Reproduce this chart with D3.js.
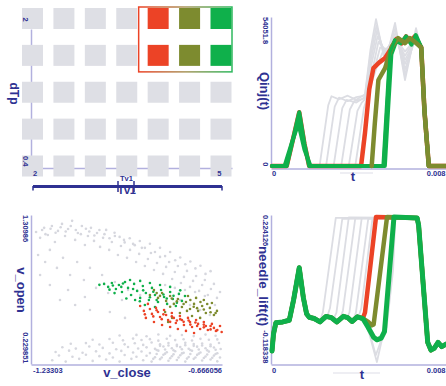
<!DOCTYPE html>
<html><head><meta charset="utf-8">
<script src="https://cdn.jsdelivr.net/npm/d3@7"></script>
<style>
body{margin:0;background:#fff}
svg{display:block}
text{font-family:"Liberation Sans",Arial,sans-serif;font-weight:bold;fill:#2e3192}
</style>
</head><body><svg id="c" width="446" height="386"></svg>
<script>
// ---------------- DATA ----------------
const tv1Values = [2, 2.5, 3, 3.5, 4, 4.5, 5];
const dTpValues = [2, 1.6, 1.2, 0.8, 0.4];
const selectedTv1 = [4, 4.5, 5];
const selectedDTp = [2, 1.6];
const tv1Ticks = ["2", "5"];
const dTpTicks = ["2", "0.4"];

const qinjDomain = [0, 54051.8];
const needleDomain = [-0.118338, 0.224126];
const tDomainMs = [0, 8];
const tTicks = ["0", "0.008"];
const vCloseDomain = [-1.23303, -0.666056];
const vOpenDomain = [0.229851, 1.30986];

// Qinj(t): time in ms, value
const qPilot = [[0,0],[0.68,0],[0.95,9000],[1.26,19500],[1.5,8000],[1.72,0]];
const qPilotLow = [[0,0],[0.58,0],[0.9,8000],[1.22,15500],[1.5,6000],[1.78,0]];
const qTail = [[6.9,43000],[7.05,20000],[7.25,0],[8.05,0]];
const qGrayRuns = [
  [[2.2,0],[2.6,22000],[2.75,25300],[3.1,24200],[3.5,25500],[3.9,24000],[4.3,26000],[4.55,42000],[4.81,53300],[5.23,37400],[5.69,51900],[6.15,31200],[6.66,50000],[6.9,42000],[7.3,0],[8.05,0]],
  [[2.5,0],[2.9,21500],[3.1,24800],[3.5,23500],[3.9,25000],[4.3,25500],[4.55,40000],[4.83,51000],[5.23,39000],[5.7,50000],[6.15,33000],[6.66,48500],[6.9,41000],[7.3,0],[8.05,0]],
  [[2.85,0],[3.25,21000],[3.45,24000],[3.9,23000],[4.3,25000],[4.56,38000],[4.85,49000],[5.23,40500],[5.72,48500],[6.15,35000],[6.68,47500],[6.9,41000],[7.3,0],[8.05,0]],
  [[3.2,0],[3.6,20500],[3.8,23500],[4.3,24500],[4.6,37000],[4.88,47000],[5.23,41500],[5.72,47000],[6.15,37000],[6.68,46500],[6.9,41000],[7.3,0],[8.05,0]],
  [[3.55,0],[3.95,20000],[4.15,23000],[4.4,25000],[4.65,35000],[4.92,45000],[5.25,42000],[5.74,46500],[6.15,38500],[6.68,46000],[6.9,41000],[7.3,0],[8.05,0]],
  [[3.85,0],[4.25,21000],[4.45,26000],[4.7,34000],[5.0,43000],[5.3,42500],[5.74,46000],[6.15,40000],[6.68,46500],[6.9,41000],[7.3,0],[8.05,0]],
  [[4.05,0],[4.4,22000],[4.6,30000],[4.85,36000],[5.1,41000],[5.4,43000],[5.74,46000],[6.15,41500],[6.68,46500],[6.9,41000],[7.3,0],[8.05,0]]
];
const qRedRun = [[4.12,0],[4.3,12000],[4.5,28000],[4.69,35500],[4.95,37500],[5.23,39200],[5.5,42500],[5.75,46000],[6.0,44500],[6.2,47000],[6.4,45000],[6.6,47000]];
const qOliveRun = [[4.61,0],[4.75,15000],[4.92,31200],[5.23,35500],[5.54,43300],[5.83,46400],[6.15,44600],[6.38,46400],[6.61,45000]];
const qGreenRun = [[5.15,0],[5.3,20000],[5.46,41500],[5.69,45700],[5.95,44500],[6.2,47000],[6.45,44000],[6.65,47500]];
const qGreenRun2 = [[5.22,0],[5.38,22000],[5.52,40500],[5.72,44800],[5.98,45500],[6.22,46000],[6.48,45000],[6.68,46500]];

// needle_lift(t): time in ms, value
const needleBase = [[0,-0.09],[0.07,-0.05],[0.18,-0.024],[0.5,-0.022],[0.8,-0.018],[1.0,0.03],[1.26,0.105],[1.45,0.035],[1.6,-0.003],[1.72,-0.011],[1.95,-0.014],[2.22,-0.022],[2.5,-0.009],[2.75,-0.012],[3.0,-0.022],[3.3,-0.009],[3.5,-0.012],[3.7,-0.021],[3.95,-0.01],[4.2,-0.014]];
const needleTail = [[6.71,0.222],[6.78,0.205],[7.2,-0.07],[7.35,-0.088],[7.5,-0.084],[7.68,-0.07],[7.85,-0.08],[8.05,-0.074]];
const nGrayRuns = [
  [[2.22,-0.02],[2.35,0.0],[2.95,0.222]],
  [[2.55,-0.01],[2.68,0.01],[3.25,0.22]],
  [[2.85,-0.015],[2.98,0.0],[3.55,0.223]],
  [[3.15,-0.015],[3.28,0.005],[3.85,0.221]],
  [[3.45,-0.013],[3.58,0.0],[4.15,0.222]],
  [[3.75,-0.02],[3.88,0.0],[4.45,0.22]],
  [[4.0,-0.01],[4.13,0.01],[4.65,0.222]],
  [[4.2,-0.014],[4.5,-0.05],[4.85,-0.116],[5.1,-0.06],[5.25,-0.03],[5.64,0.222]],
  [[4.2,-0.014],[4.5,-0.045],[4.8,-0.1],[5.05,-0.065],[5.3,-0.035],[5.6,0.1],[5.7,0.222]]
];
const nRedRun = [[4.2,-0.014],[4.3,0.0],[4.81,0.224]];
const nOliveRun = [[4.2,-0.014],[4.45,-0.022],[4.62,-0.03],[4.7,-0.028],[5.32,0.224]];
const nGreenRun = [[4.2,-0.014],[4.45,-0.035],[4.7,-0.058],[4.85,-0.064],[5.05,-0.06],[5.2,-0.045],[5.64,0.224]];

// scatter v_close (x) vs v_open (y)
const grayPts = [
[-1.218,1.186],[-1.206,1.143],[-1.194,1.216],[-1.183,1.164],[-1.171,1.230],[-1.162,1.113],[-1.153,1.194],[-1.141,1.245],[-1.132,1.157],[-1.123,1.208],[-1.111,1.267],[-1.102,1.128],[-1.094,1.179],[-1.082,1.230],[-1.073,1.091],[-1.064,1.157],[-1.055,1.216],[-1.046,1.121],[-1.037,1.179],[-1.028,1.077],[-1.019,1.143],[-1.010,1.201],[-1.001,1.055],[-0.993,1.113],[-0.984,1.157],[-0.975,1.018],[-0.966,1.084],[-0.957,1.128],[-0.948,0.997],[-0.939,1.055],[-0.930,1.099],[-0.921,0.967],[-0.912,1.026],[-0.904,1.070],[-0.895,0.938],[-0.886,0.989],[-0.877,1.033],[-0.868,0.909],[-0.859,0.960],[-0.850,1.004],[-0.841,0.880],[-0.832,0.931],[-0.823,0.967],[-0.814,0.843],[-0.806,0.894],[-0.797,0.938],[-0.788,0.814],[-0.779,0.858],[-0.770,0.902],[-0.761,0.785],[-0.752,0.829],[-0.743,0.865],[-0.734,0.756],[-0.725,0.799],[-0.717,0.836],[-0.708,0.726],[-0.699,0.770],[-0.690,0.807],[-0.681,0.705],[-0.672,0.748],
[-1.20,1.20],[-1.19,1.17],[-1.175,1.21],[-1.16,1.18],[-1.145,1.22],[-1.13,1.19],[-1.115,1.23],[-1.10,1.20],[-1.085,1.17],[-1.07,1.21],[-1.06,1.19],[-1.045,1.16],[-1.03,1.2],[-1.015,1.17],[-1.0,1.14],[-0.985,1.18],[-0.97,1.15],[-0.955,1.11],[-0.94,1.14],[-0.925,1.09],[-0.91,1.12],[-0.895,1.07],[-0.88,1.10],[-0.865,1.04],[-0.85,1.07],[-0.835,1.01],[-0.82,1.04],[-0.805,0.98],[-0.79,1.0],[-0.775,0.95],[-0.76,0.97],[-0.745,0.92],[-0.73,0.94],[-0.715,0.88],[-0.70,0.90],
[-1.212,1.018],[-1.191,0.967],[-1.177,1.055],[-1.156,0.924],[-1.138,0.997],[-1.117,0.872],[-1.096,0.967],[-1.076,0.836],[-1.058,0.924],[-1.040,0.778],[-1.022,0.872],[-1.004,0.741],[-0.984,0.821],[-0.963,0.690],[-0.945,0.763],[-1.147,0.690],[-1.102,0.653],[-1.058,0.617],[-0.999,0.602],[-0.954,0.559],[-0.909,0.726],[-1.177,0.799],[-1.206,0.872],[-1.123,0.763],[-1.073,0.712],
[-0.791,0.690],[-0.761,0.653],[-0.731,0.617],[-0.702,0.580],[-0.687,0.653],[-0.717,0.719],[-0.746,0.748],[-0.776,0.763],[-0.806,0.778],[-0.835,0.799],
[-1.17,0.25],[-1.13,0.24],[-1.09,0.26],[-1.05,0.245],[-1.01,0.255],[-0.97,0.24],[-0.935,0.26],[-0.90,0.25],[-0.875,0.24],[-0.85,0.258],[-0.825,0.246],[-0.80,0.252],[-0.775,0.24],[-0.75,0.26],[-0.725,0.248],[-0.70,0.255],[-0.68,0.242],
[-1.15,0.285],[-1.11,0.275],[-1.07,0.29],[-1.03,0.28],[-0.99,0.27],[-0.955,0.288],[-0.92,0.276],[-0.89,0.283],[-0.865,0.272],[-0.84,0.29],[-0.815,0.279],[-0.79,0.286],[-0.765,0.274],[-0.74,0.289],[-0.715,0.277],[-0.69,0.284],[-0.672,0.27],
[-1.16,0.31],[-1.12,0.32],[-1.08,0.305],[-1.04,0.315],[-1.0,0.30],[-0.965,0.318],[-0.93,0.306],[-0.905,0.314],[-0.88,0.302],[-0.855,0.32],[-0.83,0.308],[-0.805,0.316],[-0.78,0.304],[-0.755,0.319],[-0.73,0.307],[-0.705,0.313],[-0.68,0.301],
[-1.14,0.345],[-1.10,0.335],[-1.06,0.35],[-1.02,0.34],[-0.98,0.33],[-0.945,0.347],[-0.915,0.336],[-0.89,0.344],[-0.865,0.333],[-0.84,0.35],[-0.815,0.338],[-0.79,0.346],[-0.765,0.334],[-0.74,0.349],[-0.715,0.337],[-0.69,0.343],[-0.67,0.332],
[-1.115,0.37],[-1.07,0.375],[-1.03,0.365],[-0.99,0.378],[-0.955,0.366],[-0.925,0.374],[-0.90,0.362],[-0.875,0.379],[-0.85,0.367],[-0.825,0.375],[-0.80,0.363],[-0.775,0.377],[-0.75,0.368],[-0.725,0.372],[-0.70,0.364],[-0.675,0.376],
[-1.05,0.40],[-1.0,0.405],[-0.96,0.395],[-0.93,0.408],[-0.905,0.398],[-0.88,0.404],[-0.855,0.393],[-0.83,0.407],[-0.805,0.397],[-0.78,0.403],[-0.755,0.394],[-0.73,0.406],[-0.705,0.399],[-0.68,0.402],
[-0.97,0.43],[-0.92,0.435],[-0.89,0.425],[-0.855,0.438],[-0.82,0.428],[-0.785,0.434],[-0.75,0.426],[-0.715,0.437],[-0.685,0.429],
[-0.87,0.26],[-0.845,0.27],[-0.82,0.265],[-0.795,0.27],[-0.77,0.262],[-0.745,0.27],[-0.72,0.266],[-0.695,0.268],[-0.86,0.295],[-0.835,0.298],[-0.81,0.293],[-0.785,0.3],[-0.76,0.295],[-0.735,0.298],[-0.71,0.292],[-0.685,0.296],[-0.86,0.325],[-0.835,0.328],[-0.81,0.323],[-0.785,0.33],[-0.76,0.325],[-0.735,0.328],[-0.71,0.322],[-0.685,0.326],[-0.85,0.355],[-0.825,0.358],[-0.8,0.353],[-0.775,0.36],[-0.75,0.355],[-0.725,0.358],[-0.7,0.352]
];
const greenPts = [[-1.016,0.807],[-1.004,0.785],[-0.993,0.814],[-0.981,0.770],[-0.972,0.799],[-0.963,0.748],[-0.954,0.821],[-0.945,0.778],[-0.936,0.726],[-0.927,0.807],[-0.918,0.756],[-0.909,0.705],[-0.901,0.792],[-0.892,0.741],[-0.883,0.690],[-0.874,0.778],[-0.865,0.726],[-0.856,0.675],[-0.847,0.763],[-0.838,0.712],[-0.829,0.661],[-0.820,0.748],[-0.812,0.697],[-0.803,0.646],[-0.794,0.734],[-0.785,0.683],[-0.776,0.719],[-0.939,0.836],[-0.909,0.829],[-0.880,0.814],[-0.850,0.799],[-0.820,0.785],[-0.924,0.690],[-0.895,0.653],[-0.865,0.639],
[-1.03,0.80],[-0.99,0.795],[-0.96,0.81],[-0.93,0.77],[-0.90,0.76],[-0.87,0.75],[-0.84,0.73],[-0.81,0.72],[-0.95,0.70],[-0.91,0.68],[-0.88,0.71],[-0.86,0.69],[-0.83,0.70],[-0.80,0.67],[-0.79,0.76],[-0.985,0.74],[-0.965,0.785],[-1.0,0.765]];
const olivePts = [[-0.880,0.726],[-0.868,0.763],[-0.856,0.705],[-0.844,0.741],[-0.832,0.683],[-0.820,0.719],[-0.809,0.661],[-0.797,0.697],[-0.785,0.639],[-0.773,0.675],[-0.761,0.624],[-0.749,0.661],[-0.737,0.610],[-0.725,0.646],[-0.714,0.595],[-0.702,0.632],[-0.690,0.580],[-0.681,0.610],[-0.767,0.719],[-0.743,0.705],[-0.720,0.690],[-0.835,0.602],[-0.814,0.559],[-0.826,0.529],[-0.791,0.595],[-0.755,0.573],[-0.731,0.559],[-0.696,0.668],
[-0.86,0.74],[-0.85,0.72],[-0.815,0.70],[-0.80,0.68],[-0.78,0.66],[-0.76,0.69],[-0.74,0.63],[-0.72,0.62],[-0.70,0.60],[-0.685,0.595],[-0.71,0.66],[-0.73,0.675],[-0.75,0.64],[-0.77,0.61],[-0.82,0.64]];
const redPts = [[-0.909,0.646],[-0.898,0.610],[-0.886,0.661],[-0.874,0.588],[-0.862,0.632],[-0.850,0.566],[-0.838,0.617],[-0.826,0.544],[-0.815,0.595],[-0.803,0.522],[-0.791,0.573],[-0.779,0.507],[-0.767,0.559],[-0.755,0.493],[-0.743,0.544],[-0.731,0.478],[-0.720,0.529],[-0.708,0.471],[-0.696,0.515],[-0.684,0.464],[-0.672,0.500],[-0.667,0.456],[-0.892,0.559],[-0.868,0.529],[-0.844,0.507],[-0.820,0.493],[-0.797,0.478],[-0.773,0.464],[-0.749,0.449],[-0.880,0.624],[-0.856,0.602],[-0.832,0.580],[-0.809,0.559],[-0.785,0.544],[-0.761,0.529],[-0.737,0.515],[-0.714,0.500],[-0.690,0.486],
[-0.895,0.585],[-0.87,0.57],[-0.845,0.55],[-0.82,0.53],[-0.80,0.54],[-0.78,0.53],[-0.76,0.51],[-0.74,0.50],[-0.72,0.49],[-0.70,0.475],[-0.68,0.47],[-0.86,0.615],[-0.84,0.585],[-0.815,0.57],[-0.79,0.55],[-0.765,0.54],[-0.745,0.525],[-0.72,0.51],[-0.70,0.5]];

// ---------------- STYLE ----------------
const C = {red:"#ec4326", olive:"#7d8b2f", green:"#0fb04b", gray:"#dcdde3", cell:"#dedfe5", axis:"#b2b0de", ink:"#2e3192"};
const groupColor = {4:C.red, 4.5:C.olive, 5:C.green};

const svg = d3.select("#c");
const defs = svg.append("defs");
const grad = defs.append("linearGradient").attr("id","selGrad").attr("x1","0").attr("x2","1").attr("y1","0").attr("y2","0");
grad.append("stop").attr("offset","0").attr("stop-color","#ec4326");
grad.append("stop").attr("offset","0.5").attr("stop-color","#a8955a");
grad.append("stop").attr("offset","1").attr("stop-color","#2eb85e");

function hText(x,y,txt,anchor,size){
  return svg.append("text").attr("x",x).attr("y",y).attr("text-anchor",anchor).style("font-size",size+"px").text(txt);
}
function vText(x,y,txt,anchor,size){
  return svg.append("text").attr("transform",`translate(${x},${y}) rotate(90)`).attr("text-anchor",anchor).style("font-size",size+"px").text(txt);
}
function styleAxis(g){ g.select(".domain").attr("stroke",C.axis).attr("stroke-width",1.5); g.selectAll(".tick").remove(); }

// ---------------- PANEL 1: parameter grid ----------------
const gx = d3.scaleLinear().domain([2,5]).range([32.5,221]);
const gy = d3.scaleLinear().domain([2,0.4]).range([18.5,166]);
svg.append("g").attr("transform","translate(31,0)")
  .call(d3.axisLeft(d3.scaleLinear().domain([2,0.4]).range([29,168])).tickValues([]).tickSizeOuter(0)).call(styleAxis);
svg.append("g").attr("transform","translate(0,168)")
  .call(d3.axisBottom(d3.scaleLinear().domain([2,5]).range([31,232])).tickValues([]).tickSizeOuter(0)).call(styleAxis);

const cells = [];
dTpValues.forEach(d => tv1Values.forEach(v => cells.push({v, d})));
svg.append("g").selectAll("rect").data(cells).join("rect")
  .attr("x", c => gx(c.v) - 10.5).attr("y", c => gy(c.d) - 10.5)
  .attr("width",21).attr("height",21)
  .attr("fill", c => (selectedTv1.includes(c.v) && selectedDTp.includes(c.d)) ? groupColor[c.v] : C.cell);

svg.append("rect")
  .attr("x", gx(d3.min(selectedTv1)) - 19.5).attr("y", gy(d3.max(selectedDTp)) - 11.5)
  .attr("width", gx(d3.max(selectedTv1)) + 11 - (gx(d3.min(selectedTv1)) - 19.5))
  .attr("height", gy(d3.min(selectedDTp)) + 16.5 - (gy(d3.max(selectedDTp)) - 11.5))
  .attr("fill","none").attr("stroke","url(#selGrad)").attr("stroke-width",1.5);

vText(23, 17.5, dTpTicks[0], "start", 7.5);
vText(23, 166.5, dTpTicks[1], "end", 7.5);
hText(33, 175.5, tv1Ticks[0], "start", 7.5);
hText(221.5, 175.5, tv1Ticks[1], "end", 7.5);
vText(9.5, 93.5, "dTp", "middle", 12);

// Tv1 slider
svg.append("line").attr("x1",33).attr("x2",222).attr("y1",186.5).attr("y2",186.5).attr("stroke",C.ink).attr("stroke-width",3);
[33,222].forEach(x => svg.append("line").attr("x1",x).attr("x2",x).attr("y1",186).attr("y2",190.5).attr("stroke",C.ink).attr("stroke-width",1.5));
svg.append("line").attr("x1",118).attr("x2",118).attr("y1",181).attr("y2",192).attr("stroke",C.ink).attr("stroke-width",1.5);
svg.append("line").attr("x1",134).attr("x2",134).attr("y1",181).attr("y2",192).attr("stroke",C.ink).attr("stroke-width",1.5);
hText(126.5, 181, "Tv1", "middle", 7.5);
hText(126.5, 194, "Tv1", "middle", 11).style("letter-spacing","-0.3px");

// ---------------- PANEL 2: Qinj(t) ----------------
const xT = d3.scaleLinear().domain(tDomainMs).range([272,445]);
const yQ = d3.scaleLinear().domain(qinjDomain).range([166,17]);
const lineQ = d3.line().x(d => xT(d[0])).y(d => yQ(d[1]));
function qCurve(run, pilot, tail){ return pilot.filter(p => p[0] < run[0][0]).concat(run).concat(tail || []); }

svg.append("g").attr("transform","translate(271,0)")
  .call(d3.axisLeft(yQ.copy().range([166,17])).tickValues([]).tickSizeOuter(0)).call(styleAxis);
svg.append("g").attr("transform","translate(0,168.5)")
  .call(d3.axisBottom(xT.copy().range([271,446])).tickValues([]).tickSizeOuter(0)).call(styleAxis);

const gQ = svg.append("g").attr("fill","none").attr("stroke-linejoin","round").attr("stroke-linecap","round");
qGrayRuns.forEach(r => gQ.append("path").attr("d", lineQ(qCurve(r, qPilot))).attr("stroke", C.gray).attr("stroke-width",1.8));
gQ.append("path").attr("d", lineQ(qCurve(qRedRun, qPilot, qTail))).attr("stroke", C.red).attr("stroke-width",4.5);
gQ.append("path").attr("d", lineQ(qCurve(qGreenRun2, qPilotLow, qTail))).attr("stroke", C.green).attr("stroke-width",4);
gQ.append("path").attr("d", lineQ(qCurve(qGreenRun, qPilot, qTail))).attr("stroke", C.green).attr("stroke-width",4);
gQ.append("path").attr("d", lineQ(qCurve(qOliveRun, qPilot, qTail).filter(p => p[0] >= 4.4))).attr("stroke", C.olive).attr("stroke-width",4.5);
// green rising edge stays visible above olive
gQ.append("path").attr("d", lineQ(qGreenRun.slice(0,4))).attr("stroke", C.green).attr("stroke-width",3);

vText(262.5, yQ(qinjDomain[1]), String(qinjDomain[1]), "start", 7.5);
vText(262.5, yQ(0)+0.5, "0", "end", 7.5);
vText(260, 91, "Qinj(t)", "middle", 13);
svg.append("line").attr("x1",340).attr("x2",373).attr("y1",173).attr("y2",173).attr("stroke","#eeeef3").attr("stroke-width",2);
hText(272, 176, tTicks[0], "start", 7.5);
hText(445.5, 176, tTicks[1], "end", 7.5);
hText(353, 181, "t", "middle", 13);

// ---------------- PANEL 4: needle_lift(t) ----------------
const yN = d3.scaleLinear().domain(needleDomain).range([363,217]);
const lineN = d3.line().x(d => xT(d[0])).y(d => yN(d[1]));
function nCurve(run){ return needleBase.filter(p => p[0] < run[0][0]).concat(run).concat(needleTail); }

svg.append("g").attr("transform","translate(271,0)")
  .call(d3.axisLeft(yN.copy().range([364,215])).tickValues([]).tickSizeOuter(0)).call(styleAxis);
svg.append("g").attr("transform","translate(0,364.5)")
  .call(d3.axisBottom(xT.copy().range([271,446])).tickValues([]).tickSizeOuter(0)).call(styleAxis);

const gN = svg.append("g").attr("fill","none").attr("stroke-linejoin","round").attr("stroke-linecap","round");
nGrayRuns.forEach(r => gN.append("path").attr("d", lineN(nCurve(r))).attr("stroke", C.gray).attr("stroke-width",1.8));
gN.append("path").attr("d", lineN(nCurve(nRedRun))).attr("stroke", C.red).attr("stroke-width",4.5);
gN.append("path").attr("d", lineN(nCurve(nOliveRun))).attr("stroke", C.olive).attr("stroke-width",4.5);
gN.append("path").attr("d", lineN(nCurve(nGreenRun))).attr("stroke", C.green).attr("stroke-width",5);

vText(262.5, 215, String(needleDomain[1]), "start", 7.5);
vText(262.5, 363.5, String(needleDomain[0]), "end", 7.5);
vText(258.5, 286, "needle_lift(t)", "middle", 13.5);
svg.append("line").attr("x1",333).attr("x2",380).attr("y1",373).attr("y2",373).attr("stroke","#eeeef3").attr("stroke-width",2);
hText(272, 373, tTicks[0], "start", 7.5);
hText(445.5, 373, tTicks[1], "end", 7.5);
hText(362, 378.5, "t", "middle", 13);

// ---------------- PANEL 3: scatter ----------------
const sx = d3.scaleLinear().domain(vCloseDomain).range([31,222]);
const sy = d3.scaleLinear().domain(vOpenDomain).range([363,215]);
svg.append("g").attr("transform","translate(31,0)")
  .call(d3.axisLeft(sy.copy().range([364,215])).tickValues([]).tickSizeOuter(0)).call(styleAxis);
svg.append("g").attr("transform","translate(0,364.5)")
  .call(d3.axisBottom(sx.copy().range([31,222])).tickValues([]).tickSizeOuter(0)).call(styleAxis);

function dots(pts, color, r){
  svg.append("g").selectAll("circle").data(pts).join("circle")
    .attr("cx", d => sx(d[0])).attr("cy", d => sy(d[1])).attr("r", r).attr("fill", color);
}
dots(grayPts, "#d6d7de", 1.3);
dots(greenPts, C.green, 1.3);
dots(olivePts, C.olive, 1.3);
dots(redPts, C.red, 1.3);

vText(22.5, 215, String(vOpenDomain[1]), "start", 7.5);
vText(22.5, 363.5, String(vOpenDomain[0]), "end", 7.5);
vText(16.5, 290, "v_open", "middle", 13);
hText(33, 373, String(vCloseDomain[0]), "start", 7.5);
hText(222, 373, String(vCloseDomain[1]), "end", 7.5);
hText(127, 377, "v_close", "middle", 13);
</script></body></html>
